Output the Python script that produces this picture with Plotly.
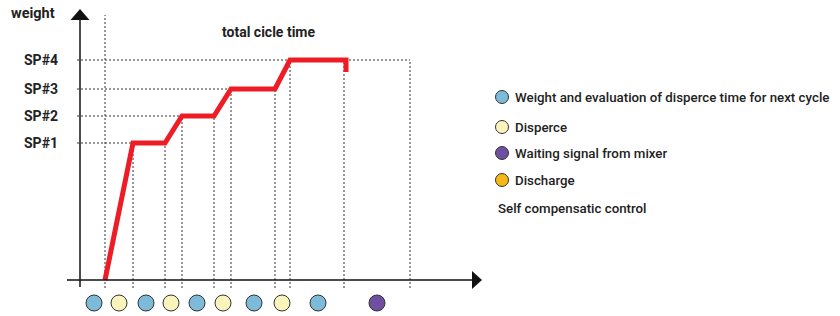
import plotly.graph_objects as go

# ---- data (time units / weight units) ----
sp_labels = ["SP#1", "SP#2", "SP#3", "SP#4"]
sp_values = [137, 164, 191, 220]
# time marks of phase boundaries (dotted verticals)
phase_marks = [25, 53, 85, 102, 134, 151, 195, 210, 264, 330]
mark_levels = [280, 137, 137, 164, 164, 191, 191, 220, 220, 220]
# weight curve
curve_t = [25, 53, 85, 102, 134, 151, 195, 210, 266, 266]
curve_w = [0, 137, 137, 164, 164, 191, 191, 220, 220, 208]
# phase indicators under the time axis
phase_t = [14, 39, 66, 91, 117, 143, 174, 202, 238, 297]
phase_kind = ["w", "d", "w", "d", "w", "d", "w", "d", "w", "s"]
# legend
legend_kinds = ["w", "d", "s", "c"]
legend_texts = ["Weight and evaluation of disperce time for next cycle",
                "Disperce", "Waiting signal from mixer", "Discharge"]
footer_text = "Self compensatic control"
colors = {"w": "#7dbbd8", "d": "#f9f4bb", "s": "#6e4fa0", "c": "#f6b817"}

FONT = "Roboto"
fig = go.Figure()

# axes lines
shapes = []
shapes.append(dict(type="line", x0=-13, x1=395, y0=0, y1=0, line=dict(color="#111", width=1.5)))
shapes.append(dict(type="line", x0=0, x1=0, y0=-7, y1=262, line=dict(color="#111", width=1.5)))
shapes.append(dict(type="path", path="M 392 9 L 402 0 L 392 -9 Z", fillcolor="#111", line=dict(width=0)))
shapes.append(dict(type="path", path="M -9.5 260 L 0 271 L 9.5 260 Z", fillcolor="#111", line=dict(width=0)))

dot = dict(color="#333", width=1, dash="2px,2px")
# vertical dotted lines
for t, lv in zip(phase_marks, mark_levels):
    top = 265 if t == phase_marks[0] else lv
    shapes.append(dict(type="line", x0=t, x1=t, y0=-8, y1=top, line=dot, layer="below"))
# horizontal dotted lines
sp_ends = [53, 102, 151, 330]
for v, e in zip(sp_values, sp_ends):
    shapes.append(dict(type="line", x0=-3, x1=e, y0=v, y1=v, line=dot, layer="below"))

fig.add_trace(go.Scatter(x=curve_t, y=curve_w, mode="lines",
                         line=dict(color="#ee1c25", width=5), hoverinfo="skip"))

fig.add_trace(go.Scatter(x=phase_t, y=[-23] * len(phase_t), mode="markers",
                         marker=dict(size=16, color=[colors[k] for k in phase_kind],
                                     line=dict(color="#333", width=1)), hoverinfo="skip"))

leg_y = [183, 153, 127, 100]
fig.add_trace(go.Scatter(x=[422] * 4, y=leg_y, mode="markers",
                         marker=dict(size=13, color=[colors[k] for k in legend_kinds],
                                     line=dict(color="#333", width=1)), hoverinfo="skip"))

ann = []
for lab, v in zip(sp_labels, sp_values):
    ann.append(dict(x=-20, y=v, text="<b>" + lab + "</b>", showarrow=False, xanchor="right",
                    yanchor="middle", font=dict(family=FONT, size=14, color="#222")))
ann.append(dict(x=-23, y=267, text="<b>weight</b>", showarrow=False, xanchor="right",
                yanchor="middle", font=dict(family=FONT, size=14.5, color="#222")))
ann.append(dict(x=188, y=248, text="<b>total cicle time</b>", showarrow=False, xanchor="center",
                yanchor="middle", font=dict(family=FONT, size=14, color="#222")))
for txt, y in zip(legend_texts, leg_y):
    ann.append(dict(x=433, y=y, text=txt, showarrow=False, xanchor="left", yanchor="middle",
                    font=dict(family=FONT, size=13.3, color="#222", weight=500)))
ann.append(dict(x=416, y=72, text=footer_text, showarrow=False, xanchor="left", yanchor="middle",
                font=dict(family=FONT, size=13.3, color="#222", weight=500)))

fig.update_layout(
    width=840, height=316, margin=dict(l=0, r=0, t=0, b=0),
    paper_bgcolor="white", plot_bgcolor="white", showlegend=False,
    xaxis=dict(range=[-80, 760], visible=False, fixedrange=True),
    yaxis=dict(range=[-36, 280], visible=False, fixedrange=True),
    shapes=shapes, annotations=ann,
)
fig.write_html("out.html", config={"displayModeBar": False},
               post_script="document.body.style.margin='0';document.body.style.overflow='hidden';")
